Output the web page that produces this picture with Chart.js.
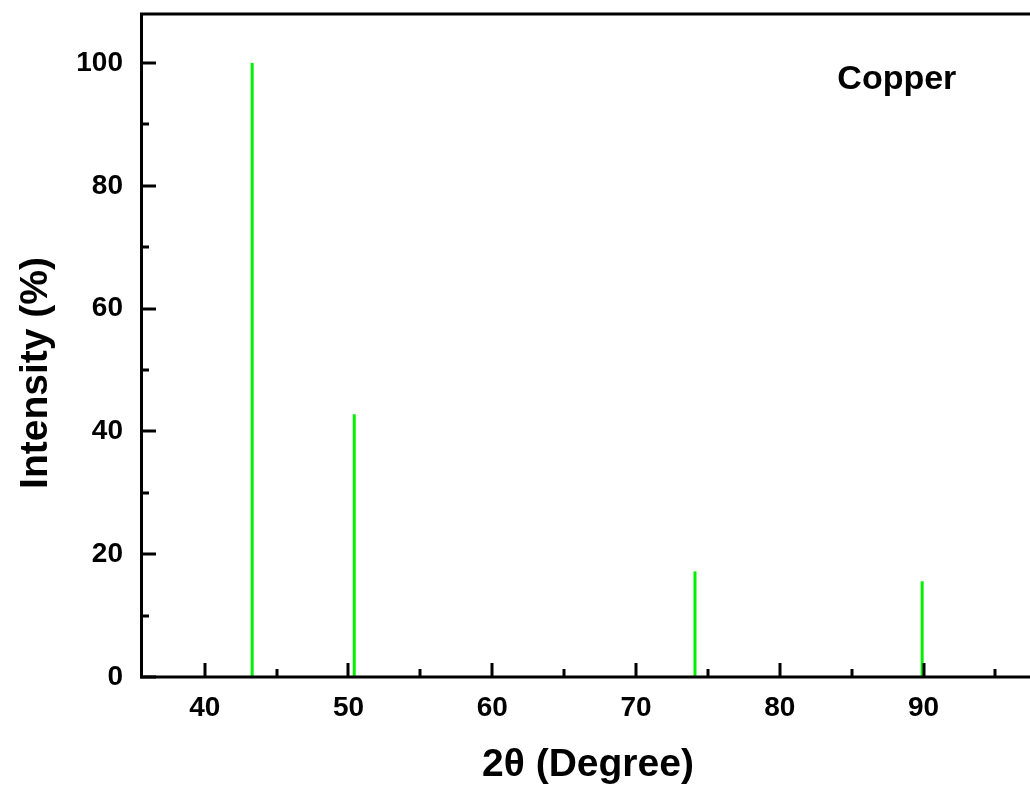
<!DOCTYPE html>
<html>
<head>
<meta charset="utf-8">
<script src="https://cdn.jsdelivr.net/npm/chart.js@4"></script>
<style>
    html, body { margin: 0; padding: 0; background: #fff; }
    canvas { display: block; }
</style>
</head>
<body>
<canvas id="xrd" width="1030" height="794"></canvas>
<script>
// peak positions (2theta) and relative intensities
const peakAngles = [43.3, 50.4, 74.1, 89.9];
const peakIntensities = [100, 42.8, 17.2, 15.6];

const xMajorTicks = [40, 50, 60, 70, 80, 90];
const xMinorTicks = [45, 55, 65, 75, 85, 95];
const yMajorTicks = [0, 20, 40, 60, 80, 100];
const yMinorTicks = [10, 30, 50, 70, 90];

const sampleName = 'Copper';
const sampleLabelAt = { x: 84.0, y: 95.8 };
const xTitle = '2θ (Degree)';
const yTitle = 'Intensity (%)';

const FONT = '"Liberation Sans", Arial, sans-serif';
const PEAK_COLOR = '#00f000';

// frame, inward ticks and titles, drawn over the peaks like the original
const axisFrame = {
    id: 'axisFrame',
    afterDatasetsDraw(chart) {
        const { ctx, chartArea: a, scales: { x, y } } = chart;
        ctx.save();
        ctx.strokeStyle = '#000';
        ctx.lineWidth = 3;
        ctx.beginPath();
        ctx.moveTo(a.right, a.top);
        ctx.lineTo(a.left + 1.5, a.top);
        ctx.lineTo(a.left + 1.5, a.bottom);
        ctx.lineTo(a.right, a.bottom);
        ctx.stroke();

        const tick = (list, len, horiz) => {
            ctx.beginPath();
            for (const v of list) {
                if (horiz) {
                    const px = Math.round(x.getPixelForValue(v));
                    ctx.moveTo(px, a.bottom);
                    ctx.lineTo(px, a.bottom - len);
                } else {
                    const py = Math.round(y.getPixelForValue(v));
                    ctx.moveTo(a.left, py);
                    ctx.lineTo(a.left + len, py);
                }
            }
            ctx.stroke();
        };
        tick(xMajorTicks, 14, true);
        tick(xMinorTicks, 8, true);
        tick(yMajorTicks, 16, false);
        tick(yMinorTicks, 9, false);

        ctx.fillStyle = '#000';
        ctx.font = `bold 34px ${FONT}`;
        ctx.textAlign = 'left';
        ctx.textBaseline = 'alphabetic';
        ctx.fillText(sampleName, x.getPixelForValue(sampleLabelAt.x), y.getPixelForValue(sampleLabelAt.y));

        // axis titles
        ctx.font = `bold 39px ${FONT}`;
        ctx.textAlign = 'center';
        ctx.textBaseline = 'middle';
        ctx.fillText(xTitle, 588, 765);
        ctx.translate(36, 373);
        ctx.rotate(-Math.PI / 2);
        ctx.fillText(yTitle, 0, 0);
        ctx.restore();
    }
};

const datasets = peakAngles.map((a, i) => ({
    data: [{ x: a, y: 0 }, { x: a, y: peakIntensities[i] }],
    showLine: true,
    borderColor: PEAK_COLOR,
    borderWidth: 3,
    pointRadius: 0,
    borderCapStyle: 'butt',
}));

new Chart(document.getElementById('xrd'), {
    type: 'scatter',
    data: { datasets },
    options: {
        responsive: false,
        animation: false,
        layout: { padding: { top: 14, right: 0, left: 0, bottom: 0 } },
        plugins: { legend: { display: false }, tooltip: { enabled: false } },
        scales: {
            x: {
                type: 'linear',
                min: 35.5,
                max: 97.4,
                grid: { display: false, drawTicks: false },
                border: { display: false },
                afterBuildTicks: (s) => { s.ticks = xMajorTicks.map(v => ({ value: v })); },
                afterFit: (s) => { s.height = 117; s.paddingLeft = 0; s.paddingRight = 0; },
                ticks: {
                    color: '#000',
                    padding: 14,
                    maxRotation: 0,
                    autoSkip: false,
                    font: { family: FONT, size: 28, weight: 'bold' },
                },
            },
            y: {
                type: 'linear',
                min: 0,
                max: 108,
                grid: { display: false, drawTicks: false },
                border: { display: false },
                afterBuildTicks: (s) => { s.ticks = yMajorTicks.map(v => ({ value: v })); },
                afterFit: (s) => { s.width = 140; s.paddingTop = 0; s.paddingBottom = 0; },
                ticks: {
                    color: '#000',
                    padding: 17,
                    autoSkip: false,
                    font: { family: FONT, size: 28, weight: 'bold' },
                },
            },
        },
    },
    plugins: [axisFrame],
});
</script>
</body>
</html>
